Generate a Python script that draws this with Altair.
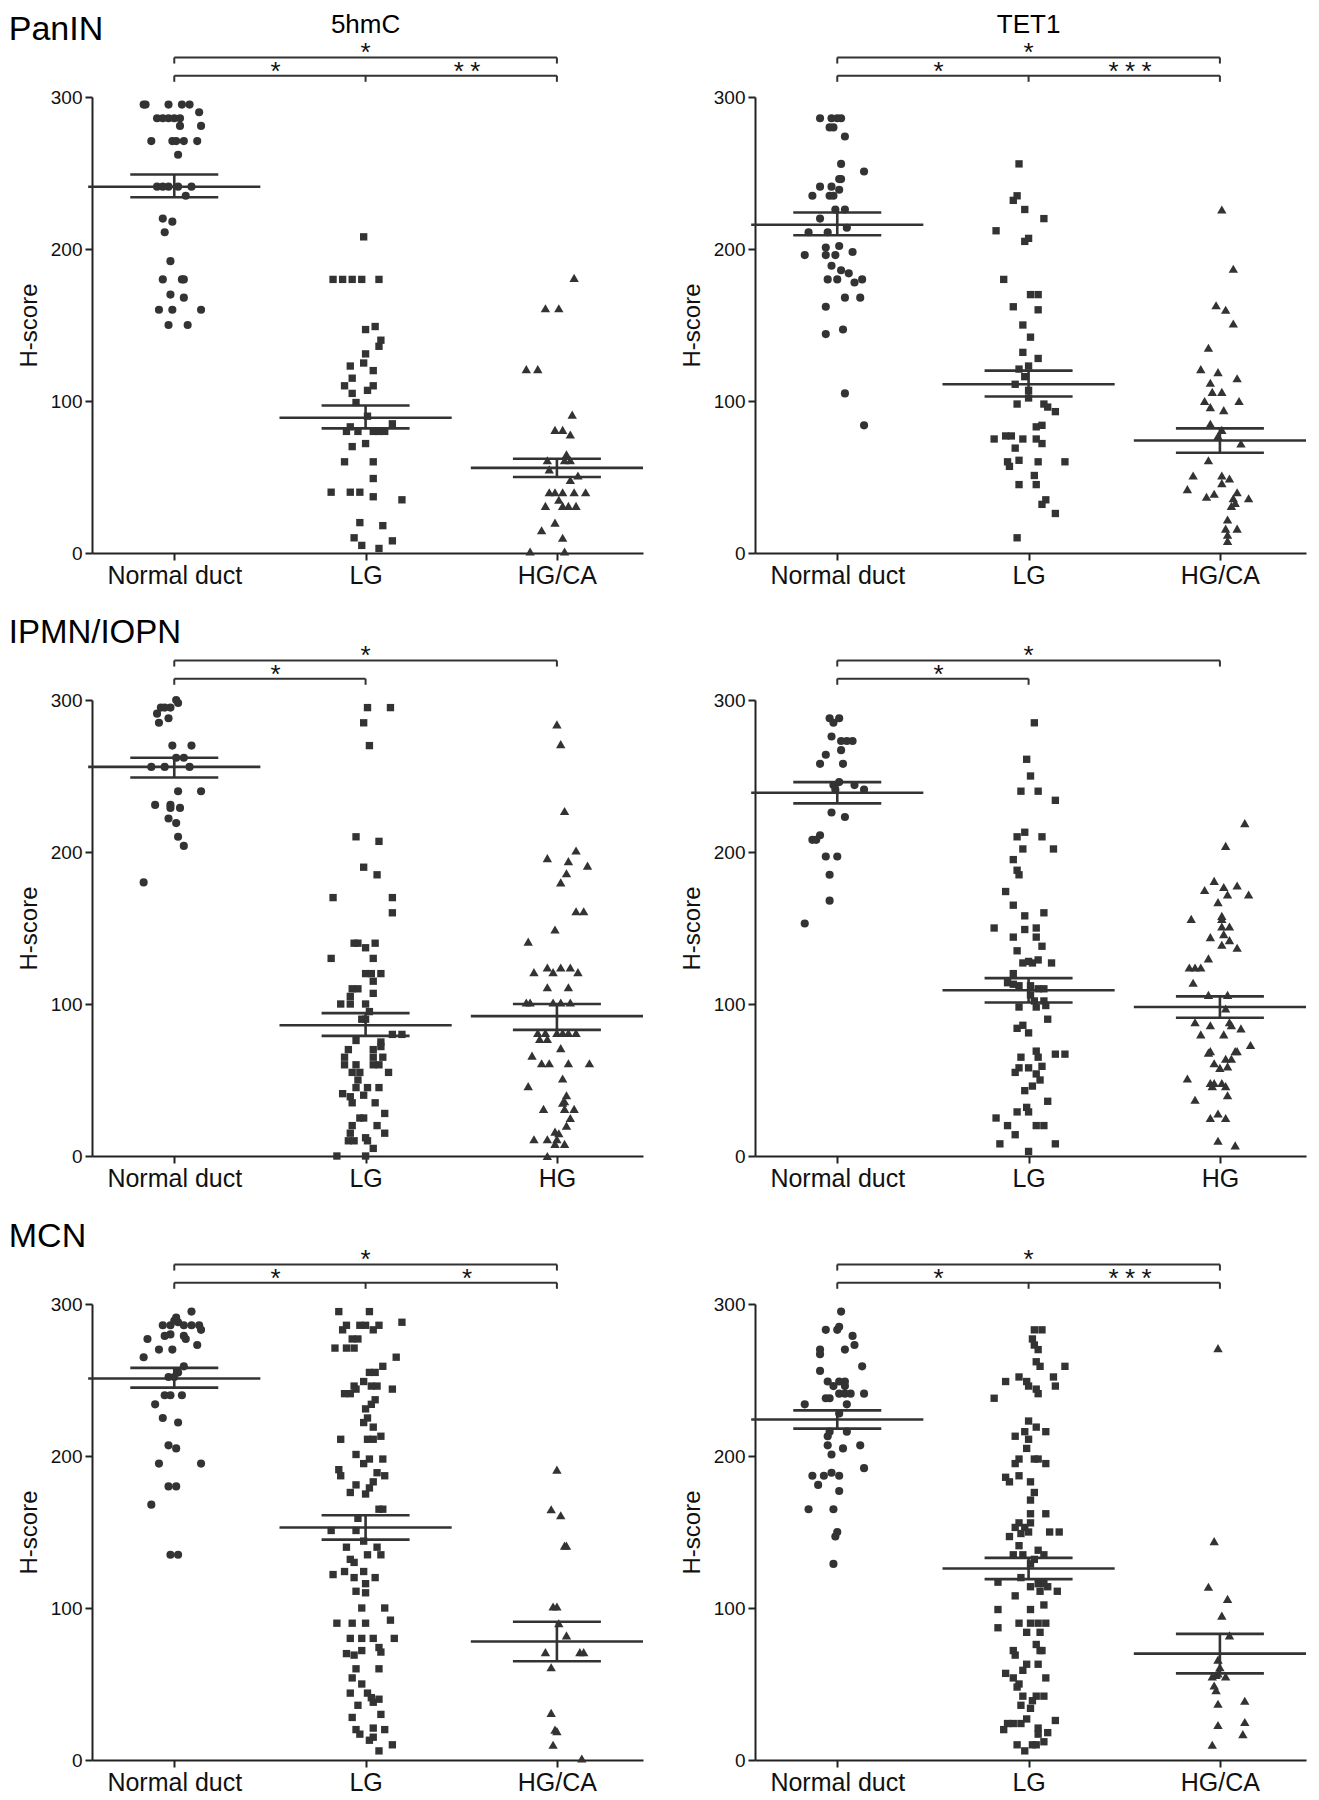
import altair as alt
import pandas as pd

FONT = "Liberation Sans"
INK = "#333333"

CATS_CA = ["Normal duct", "LG", "HG/CA"]
CATS_HG = ["Normal duct", "LG", "HG"]
SHAPES = ["circle", "square", "triangle-up"]
SIZES = [66, 54, 88]

ROW_TITLES = ["PanIN", "IPMN/IOPN", "MCN"]
ROW_TITLE_SIZES = [34, 33, 34]
COL_TITLES = ["5hmC", "TET1"]

# ---------------- PanIN, 5hmC  (value, horizontal jitter in category units)
A1_NORMAL = [(295,-0.16),(295,-0.15),(295,-0.03),(295,0.04),(295,0.08),(290,0.13),(286,-0.09),(286,-0.06),(286,-0.03),(286,0.0),(286,0.03),(281,0.03),(281,0.14),(271,-0.12),(271,-0.01),(271,0.01),(271,0.05),(271,0.12),(262,0.02),(241,-0.09),(241,-0.06),(241,-0.03),(241,0.02),(241,0.09),(235,0.06),(220,-0.06),(218,-0.01),(211,-0.05),(192,-0.02),(180,-0.06),(180,0.04),(180,0.05),(170,-0.02),(168,0.05),(160,-0.08),(160,-0.01),(160,0.14),(150,-0.03),(150,0.07)]
A1_LG = [(208,-0.01),(180,-0.17),(180,-0.12),(180,-0.07),(180,-0.02),(180,0.07),(147,0.0),(149,0.05),(140,0.08),(136,0.07),(131,0.0),(123,-0.08),(125,-0.01),(120,0.04),(115,-0.07),(110,-0.11),(105,-0.07),(107,0.01),(110,0.04),(99,-0.05),(90,0.01),(80,-0.10),(83,-0.08),(80,-0.04),(80,0.04),(80,0.07),(80,0.10),(85,0.14),(70,-0.07),(72,0.0),(60,-0.11),(60,0.04),(49,0.04),(40,-0.18),(40,-0.08),(40,-0.03),(37,0.04),(35,0.19),(20,-0.03),(18,0.09),(10,-0.06),(5,-0.02),(8,0.14),(3,0.07)]
A1_HG = [(181,0.09),(161,-0.06),(161,0.01),(121,-0.16),(121,-0.10),(91,0.08),(81,-0.01),(81,0.03),(78,0.07),(65,0.05),(61,0.04),(61,-0.05),(61,0.07),(55,-0.04),(48,0.07),(51,0.11),(40,-0.04),(40,-0.01),(40,0.03),(40,0.09),(40,0.15),(35,0.01),(31,-0.06),(31,0.03),(31,0.06),(31,0.10),(20,-0.01),(15,-0.08),(10,0.03),(1,-0.14),(1,0.04)]
A1_MEAN = [241, 89, 56]
A1_SEM_LO = [234, 82, 50]
A1_SEM_HI = [249, 97, 62]

# ---------------- PanIN, TET1
A2_NORMAL = [(286,-0.09),(286,-0.03),(286,0.0),(286,0.02),(280,-0.04),(280,-0.02),(274,0.04),(256,0.02),(251,0.14),(246,0.01),(246,0.02),(241,-0.09),(241,-0.03),(239,0.01),(235,-0.13),(235,-0.04),(235,-0.02),(226,-0.01),(226,0.04),(220,-0.09),(211,-0.15),(211,-0.05),(214,0.05),(201,-0.06),(202,0.01),(198,0.08),(196,-0.17),(196,-0.06),(196,-0.01),(189,-0.03),(186,0.02),(184,0.06),(180,-0.05),(180,0.0),(178,0.09),(180,0.13),(168,0.04),(168,0.12),(162,-0.06),(144,-0.06),(147,0.03),(105,0.04),(84,0.14)]
A2_LG = [(256,-0.05),(232,-0.08),(235,-0.06),(226,-0.02),(220,0.08),(212,-0.17),(205,-0.02),(207,0.0),(180,-0.13),(170,0.01),(170,0.05),(162,-0.08),(160,0.05),(150,-0.03),(142,0.01),(132,-0.03),(128,0.05),(123,0.0),(121,-0.05),(116,-0.02),(111,-0.07),(107,0.0),(102,0.0),(98,-0.06),(98,0.08),(96,0.10),(93,0.14),(83,0.04),(84,0.07),(75,-0.18),(77,-0.12),(77,-0.09),(75,-0.03),(75,0.04),(72,0.07),(69,-0.07),(60,-0.11),(57,-0.10),(61,-0.05),(60,0.05),(60,0.19),(51,0.03),(45,-0.05),(45,0.04),(35,0.09),(32,0.07),(26,0.14),(10,-0.06)]
A2_HG = [(226,0.01),(187,0.07),(163,-0.02),(160,0.03),(151,0.07),(135,-0.06),(121,-0.10),(119,-0.01),(115,0.09),(112,-0.05),(106,-0.04),(106,0.01),(100,-0.08),(96,-0.05),(94,0.02),(100,0.10),(85,-0.05),(81,0.01),(77,-0.01),(72,0.11),(61,-0.06),(51,-0.14),(51,0.01),(46,0.01),(49,0.05),(42,-0.17),(37,-0.07),(39,-0.03),(36,0.07),(40,0.09),(36,0.15),(31,0.06),(33,0.08),(22,0.04),(16,0.03),(16,0.09),(12,0.04),(8,0.04)]
A2_MEAN = [216, 111, 74]
A2_SEM_LO = [209, 103, 66]
A2_SEM_HI = [224, 120, 82]

# ---------------- IPMN/IOPN, 5hmC
B1_NORMAL = [(300,0.01),(298,0.02),(295,-0.07),(295,-0.05),(295,-0.02),(291,-0.09),(288,-0.03),(285,-0.08),(270,-0.01),(270,0.09),(262,0.01),(262,0.05),(256,-0.12),(256,-0.05),(256,0.08),(240,0.02),(240,0.14),(231,-0.10),(231,-0.02),(229,-0.02),(229,0.03),(222,-0.03),(219,0.01),(210,0.02),(204,0.05),(180,-0.16)]
B1_LG = [(295,0.01),(295,0.13),(285,-0.01),(270,0.02),(210,-0.05),(207,0.07),(190,-0.01),(185,0.06),(170,-0.17),(170,0.14),(160,0.14),(140,-0.06),(140,-0.04),(137,0.0),(140,0.05),(130,-0.18),(130,0.04),(120,0.0),(120,0.03),(120,0.08),(115,0.04),(110,-0.07),(110,-0.04),(107,0.04),(105,-0.08),(100,-0.13),(100,-0.08),(100,0.0),(95,0.02),(90,-0.02),(90,0.0),(80,0.14),(80,0.19),(76,-0.05),(75,0.08),(72,0.08),(70,-0.09),(70,0.04),(65,-0.11),(65,0.04),(65,0.09),(60,-0.11),(60,-0.05),(60,0.04),(60,0.07),(55,-0.07),(55,-0.03),(55,0.12),(50,-0.04),(45,-0.05),(45,0.01),(45,0.07),(41,-0.12),(39,-0.08),(40,-0.01),(35,-0.07),(35,0.05),(28,0.10),(25,-0.03),(25,-0.01),(20,-0.07),(20,0.06),(15,-0.08),(12,0.0),(15,0.10),(10,-0.09),(10,-0.06),(10,0.01),(5,0.04),(0,-0.15),(0,0.0)]
B1_HG = [(284,0.0),(271,0.02),(227,0.04),(196,-0.05),(194,0.06),(201,0.10),(191,0.16),(186,0.05),(180,0.02),(161,0.10),(161,0.14),(149,-0.01),(141,-0.15),(121,-0.12),(124,-0.05),(121,-0.02),(124,0.02),(124,0.07),(121,0.11),(111,-0.05),(111,0.06),(101,-0.16),(101,-0.14),(101,-0.02),(101,0.02),(101,0.07),(81,-0.10),(81,-0.06),(77,-0.09),(77,-0.05),(81,0.0),(81,0.03),(81,0.06),(81,0.10),(71,0.02),(66,-0.13),(61,-0.08),(61,-0.04),(61,0.06),(61,0.17),(51,0.03),(46,-0.15),(40,0.05),(36,0.04),(35,0.03),(31,-0.07),(31,0.04),(31,0.09),(25,0.07),(20,0.05),(16,-0.01),(15,0.01),(11,-0.12),(11,-0.05),(11,0.0),(8,-0.01),(8,0.04),(0,-0.05)]
B1_MEAN = [256, 86, 92]
B1_SEM_LO = [249, 79, 83]
B1_SEM_HI = [262, 94, 100]

# ---------------- IPMN/IOPN, TET1
B2_NORMAL = [(288,-0.04),(288,0.01),(285,-0.02),(276,-0.03),(273,0.02),(273,0.05),(273,0.08),(267,0.02),(264,-0.06),(258,-0.09),(258,0.03),(246,0.01),(244,-0.02),(241,-0.01),(244,0.09),(241,0.14),(226,-0.03),(223,0.04),(211,-0.09),(208,-0.13),(208,-0.11),(197,-0.06),(197,0.0),(185,-0.04),(168,-0.04),(153,-0.17)]
B2_LG = [(285,0.03),(261,-0.01),(250,0.01),(240,-0.04),(240,0.05),(234,0.14),(210,-0.06),(213,-0.02),(210,0.07),(202,-0.03),(202,0.13),(195,-0.08),(188,-0.06),(185,-0.05),(174,-0.12),(165,-0.08),(160,0.08),(158,-0.02),(150,-0.18),(149,-0.02),(150,0.04),(144,-0.08),(144,0.04),(138,0.07),(135,-0.06),(127,-0.03),(128,0.0),(127,0.02),(129,0.05),(127,0.12),(120,-0.08),(114,-0.11),(113,-0.08),(112,-0.05),(112,0.01),(110,0.05),(110,0.08),(106,0.01),(102,0.03),(102,0.08),(99,0.09),(98,-0.05),(98,0.04),(90,0.10),(84,-0.06),(86,-0.03),(81,0.0),(69,0.04),(65,0.05),(67,0.14),(67,0.19),(65,-0.04),(58,0.0),(59,0.07),(55,-0.07),(58,-0.05),(54,0.04),(50,0.06),(46,0.02),(43,-0.02),(36,0.10),(32,-0.01),(29,0.0),(29,-0.06),(25,-0.17),(20,-0.11),(20,0.04),(20,0.08),(14,-0.07),(8,-0.15),(8,0.14),(3,0.0)]
B2_HG = [(219,0.13),(204,0.03),(181,-0.03),(177,0.02),(178,0.09),(175,-0.08),(172,0.04),(172,0.15),(167,-0.01),(158,0.01),(156,0.01),(156,-0.15),(151,0.01),(151,0.05),(144,-0.05),(146,0.02),(142,0.05),(139,0.01),(137,0.09),(130,-0.06),(124,-0.16),(124,-0.13),(124,-0.10),(114,-0.14),(106,-0.06),(106,0.04),(97,0.03),(88,-0.13),(86,-0.05),(80,-0.10),(80,0.02),(88,0.05),(86,0.06),(84,0.11),(73,0.16),(69,-0.05),(68,-0.06),(69,0.08),(69,0.09),(61,-0.03),(64,0.03),(64,0.06),(58,0.0),(59,0.04),(51,-0.17),(48,-0.05),(48,-0.03),(48,0.01),(46,0.03),(46,-0.04),(40,0.04),(37,-0.13),(28,-0.01),(25,-0.05),(25,0.03),(10,-0.01),(7,0.08)]
B2_MEAN = [239, 109, 98]
B2_SEM_LO = [232, 101, 91]
B2_SEM_HI = [246, 117, 105]

# ---------------- MCN, 5hmC
C1_NORMAL = [(295,0.09),(291,0.01),(289,0.0),(288,0.02),(286,-0.06),(286,-0.02),(286,0.05),(286,0.09),(286,0.13),(283,0.14),(279,-0.05),(280,-0.02),(279,0.05),(277,0.06),(277,-0.14),(270,-0.08),(270,-0.01),(273,0.12),(265,-0.16),(259,0.05),(255,0.02),(252,-0.03),(252,0.0),(240,-0.05),(240,-0.02),(240,0.04),(234,-0.10),(225,-0.06),(222,0.02),(207,-0.03),(205,0.01),(195,-0.08),(195,0.14),(180,-0.03),(180,0.01),(168,-0.12),(135,-0.02),(135,0.02)]
C1_LG = [(295,-0.14),(295,0.02),(288,0.19),(286,-0.10),(286,-0.03),(286,0.0),(286,0.07),(283,-0.12),(283,0.04),(277,-0.07),(277,-0.04),(271,-0.16),(271,-0.10),(271,-0.06),(265,0.16),(259,0.09),(255,0.02),(255,0.05),(249,-0.01),(246,-0.06),(246,0.03),(246,0.06),(244,0.14),(241,-0.11),(241,-0.08),(244,-0.05),(237,0.05),(234,0.03),(231,0.0),(225,0.01),(222,-0.01),(219,0.04),(211,-0.13),(211,0.01),(211,0.04),(213,0.08),(201,-0.05),(198,0.09),(198,0.02),(195,-0.01),(191,-0.14),(187,-0.13),(189,0.06),(187,0.10),(183,0.04),(179,0.02),(181,-0.05),(176,-0.08),(175,0.0),(165,0.07),(165,0.09),(159,-0.04),(151,-0.18),(151,-0.05),(144,-0.01),(140,-0.10),(140,0.06),(135,0.01),(135,0.08),(132,-0.08),(130,-0.06),(122,-0.17),(124,-0.11),(120,-0.06),(124,-0.01),(120,0.05),(116,0.0),(111,-0.05),(110,0.0),(100,-0.02),(100,0.10),(90,-0.15),(90,-0.07),(90,0.0),(92,0.13),(80,-0.08),(80,-0.02),(80,0.04),(80,0.15),(70,-0.10),(69,-0.06),(72,-0.02),(74,0.07),(71,0.08),(60,-0.05),(60,0.07),(54,-0.07),(50,-0.02),(44,-0.08),(44,0.01),(41,0.03),(40,0.07),(36,-0.04),(38,0.04),(28,-0.07),(30,0.08),(20,-0.05),(17,-0.03),(21,0.04),(20,0.10),(13,0.02),(15,0.04),(10,0.14),(6,0.07)]
C1_HG = [(191,0.0),(165,-0.03),(161,0.02),(141,0.04),(141,0.05),(101,-0.02),(101,0.0),(90,0.01),(82,0.05),(71,-0.06),(71,0.12),(71,0.14),(61,-0.03),(31,-0.03),(20,-0.01),(19,0.0),(10,-0.02),(1,0.13)]
C1_MEAN = [251, 153, 78]
C1_SEM_LO = [245, 145, 65]
C1_SEM_HI = [258, 161, 91]

# ---------------- MCN, TET1
C2_NORMAL = [(295,0.02),(283,-0.06),(283,0.0),(285,0.01),(279,0.08),(273,0.09),(270,0.04),(270,-0.09),(267,-0.09),(259,0.13),(256,-0.09),(249,-0.05),(246,-0.02),(249,0.01),(249,0.04),(246,0.04),(238,-0.06),(238,-0.04),(241,0.01),(241,0.04),(241,0.07),(241,0.14),(234,0.05),(234,-0.17),(228,0.01),(216,-0.04),(213,-0.05),(216,0.05),(207,-0.05),(205,0.03),(207,0.12),(201,-0.03),(192,0.14),(187,-0.13),(187,-0.07),(189,-0.03),(187,0.01),(181,-0.10),(177,0.01),(165,-0.15),(165,-0.02),(150,0.0),(147,-0.01),(129,-0.02)]
C2_LG = [(283,0.03),(283,0.07),(277,0.02),(273,0.03),(270,0.05),(262,0.04),(259,0.06),(259,0.19),(249,-0.12),(252,-0.05),(249,-0.01),(246,0.0),(244,0.04),(241,0.05),(252,0.13),(246,0.14),(238,-0.18),(223,0.0),(219,0.04),(216,0.09),(216,-0.02),(213,-0.07),(211,0.0),(205,-0.01),(195,-0.07),(198,-0.05),(198,0.03),(198,0.05),(195,0.09),(186,-0.12),(183,-0.10),(187,-0.05),(183,0.01),(176,0.03),(171,0.01),(162,0.01),(162,0.09),(156,-0.05),(153,-0.07),(153,-0.02),(156,0.01),(147,-0.10),(149,-0.04),(150,0.0),(150,0.11),(150,0.16),(141,-0.05),(135,-0.08),(135,-0.03),(138,0.05),(135,0.08),(132,0.03),(129,0.01),(117,-0.16),(120,-0.04),(114,0.01),(116,0.05),(114,0.10),(111,0.15),(108,-0.07),(111,0.06),(116,0.08),(99,-0.16),(99,0.01),(102,0.08),(87,-0.16),(90,-0.05),(90,0.01),(90,0.05),(90,0.09),(84,-0.01),(84,0.06),(72,-0.08),(69,-0.07),(76,0.04),(72,0.06),(72,0.07),(63,-0.01),(63,0.05),(57,-0.12),(54,-0.08),(59,-0.03),(50,-0.05),(48,-0.06),(54,0.09),(42,-0.03),(42,0.04),(42,0.08),(36,-0.04),(39,0.02),(34,0.01),(20,-0.13),(24,-0.11),(24,-0.08),(24,-0.04),(27,-0.01),(21,0.05),(17,0.05),(18,0.10),(26,0.14),(10,-0.06),(6,-0.02),(10,0.02),(10,0.04),(12,0.08)]
C2_HG = [(271,-0.01),(144,-0.03),(114,-0.06),(106,0.04),(95,0.01),(82,0.05),(66,-0.01),(61,0.0),(56,-0.02),(55,0.03),(55,-0.04),(57,-0.01),(49,-0.03),(46,-0.02),(37,-0.01),(39,0.13),(23,-0.01),(25,0.13),(17,0.12),(10,-0.04)]
C2_MEAN = [224, 126, 70]
C2_SEM_LO = [218, 119, 57]
C2_SEM_HI = [230, 133, 83]

# ---------------- significance brackets: (from, to, level, tick positions)
# stars: (centre x, number of asterisks, level)
UPPER_Y = 326
LOWER_Y = 314
BR_THREE = [(0, 2, UPPER_Y, [0, 2]), (0, 2, LOWER_Y, [0, 1, 2])]
BR_TWO = [(0, 2, UPPER_Y, [0, 2]), (0, 1, LOWER_Y, [0, 1])]
ST_A1 = [(1.0, 1, UPPER_Y), (0.53, 1, LOWER_Y), (1.53, 2, LOWER_Y)]
ST_A2 = [(1.0, 1, UPPER_Y), (0.53, 1, LOWER_Y), (1.53, 3, LOWER_Y)]
ST_B = [(1.0, 1, UPPER_Y), (0.53, 1, LOWER_Y)]
ST_C1 = [(1.0, 1, UPPER_Y), (0.53, 1, LOWER_Y), (1.53, 1, LOWER_Y)]
ST_C2 = [(1.0, 1, UPPER_Y), (0.53, 1, LOWER_Y), (1.53, 3, LOWER_Y)]

TICK_LEN = 4
MEAN_HALF = 0.45
SEM_HALF = 0.23
STAR_GAP = 0.086
STAR_SIZE = 26
STAR_DROP = 2.6
ROW_TITLE_POS = (-0.865, 344.3)
COL_TITLE_POS = (1.0, 347.6)
COL_TITLE_SIZE = 26

XS = alt.Scale(domain=[-0.43, 2.45], nice=False, zero=False)
YS = alt.Scale(domain=[0, 300], nice=False, zero=True)


def panel(cats, groups, mean, lo, hi, brackets, stars, row_idx=None, col_title=None):
    xax = alt.Axis(values=[0, 1, 2], labelExpr=f"{cats!r}[datum.value]", title=None,
                   labelFontSize=25, tickSize=7, labelPadding=3, labelFlush=False,
                   labelOverlap=False, grid=False)
    yax = alt.Axis(values=[0, 100, 200, 300], title="H-score", titleFontSize=24,
                   titleFontWeight="normal", labelFontSize=19, tickSize=7,
                   labelPadding=3, titlePadding=9, grid=False)
    X = alt.X("x:Q", scale=XS, axis=xax)
    Y = alt.Y("y:Q", scale=YS, axis=yax)

    pts = []
    for gi, grp in enumerate(groups):
        for v, off in grp:
            pts.append({"x": gi + off, "y": v, "g": gi, "s": SIZES[gi]})
    df_pts = pd.DataFrame(pts)

    segs = []
    for gi in range(3):
        segs.append(dict(x=gi - MEAN_HALF, x2=gi + MEAN_HALF, y=mean[gi], y2=mean[gi], w=2.6))
        segs.append(dict(x=gi - SEM_HALF, x2=gi + SEM_HALF, y=lo[gi], y2=lo[gi], w=2.6))
        segs.append(dict(x=gi - SEM_HALF, x2=gi + SEM_HALF, y=hi[gi], y2=hi[gi], w=2.6))
        segs.append(dict(x=gi, x2=gi, y=lo[gi], y2=hi[gi], w=2.6))
    for a, b, lvl, ticks in brackets:
        segs.append(dict(x=a, x2=b, y=lvl, y2=lvl, w=2))
        for t in ticks:
            segs.append(dict(x=t, x2=t, y=lvl, y2=lvl - TICK_LEN, w=2))
    df_segs = pd.DataFrame(segs)

    st = []
    for cx, n, lvl in stars:
        for k in range(n):
            st.append({"x": cx + (k - (n - 1) / 2) * STAR_GAP, "y": lvl - STAR_DROP, "t": "*"})
    df_stars = pd.DataFrame(st)

    points = alt.Chart(df_pts).mark_point(filled=True, opacity=1, color=INK).encode(
        x=X, y=Y,
        shape=alt.Shape("g:N", scale=alt.Scale(domain=[0, 1, 2], range=SHAPES), legend=None),
        size=alt.Size("s:Q", scale=None),
    )
    rules = alt.Chart(df_segs).mark_rule(color="#333333").encode(
        x=X, x2="x2:Q", y=Y, y2="y2:Q", strokeWidth=alt.StrokeWidth("w:Q", scale=None)
    )
    star_txt = alt.Chart(df_stars).mark_text(
        fontSize=STAR_SIZE, baseline="alphabetic", align="center", color="#111111", font=FONT
    ).encode(x=X, y=Y, text="t:N")

    layers = [points, rules, star_txt]
    if row_idx is not None:
        df_rt = pd.DataFrame([{"x": ROW_TITLE_POS[0], "y": ROW_TITLE_POS[1], "t": ROW_TITLES[row_idx]}])
        layers.append(alt.Chart(df_rt).mark_text(
            fontSize=ROW_TITLE_SIZES[row_idx], align="left", baseline="middle",
            color="#000000", font=FONT
        ).encode(x=X, y=Y, text="t:N"))
    if col_title:
        df_ct = pd.DataFrame([{"x": COL_TITLE_POS[0], "y": COL_TITLE_POS[1], "t": col_title}])
        layers.append(alt.Chart(df_ct).mark_text(
            fontSize=COL_TITLE_SIZE, align="center", baseline="middle", color="#000000", font=FONT
        ).encode(x=X, y=Y, text="t:N"))
    return alt.layer(*layers).properties(width=551, height=456)


row1 = alt.hconcat(
    panel(CATS_CA, [A1_NORMAL, A1_LG, A1_HG], A1_MEAN, A1_SEM_LO, A1_SEM_HI, BR_THREE, ST_A1,
          row_idx=0, col_title=COL_TITLES[0]),
    panel(CATS_CA, [A2_NORMAL, A2_LG, A2_HG], A2_MEAN, A2_SEM_LO, A2_SEM_HI, BR_THREE, ST_A2,
          col_title=COL_TITLES[1]),
    spacing=35,
)
row2 = alt.hconcat(
    panel(CATS_HG, [B1_NORMAL, B1_LG, B1_HG], B1_MEAN, B1_SEM_LO, B1_SEM_HI, BR_TWO, ST_B,
          row_idx=1),
    panel(CATS_HG, [B2_NORMAL, B2_LG, B2_HG], B2_MEAN, B2_SEM_LO, B2_SEM_HI, BR_TWO, ST_B),
    spacing=35,
)
row3 = alt.hconcat(
    panel(CATS_CA, [C1_NORMAL, C1_LG, C1_HG], C1_MEAN, C1_SEM_LO, C1_SEM_HI, BR_THREE, ST_C1,
          row_idx=2),
    panel(CATS_CA, [C2_NORMAL, C2_LG, C2_HG], C2_MEAN, C2_SEM_LO, C2_SEM_HI, BR_THREE, ST_C2),
    spacing=35,
)

chart = alt.vconcat(row1, row2, row3, spacing=28).properties(
    padding={"top": 3, "left": 0, "right": 0, "bottom": 0}, background="white"
).configure_axis(
    labelFont=FONT, titleFont=FONT, domainColor="#222222", tickColor="#222222",
    labelColor="#111111", titleColor="#111111", domainWidth=2, tickWidth=2, grid=False
).configure_view(stroke=None).configure_text(font=FONT)

chart.save("out.html", embed_options={"renderer": "svg", "actions": False})
